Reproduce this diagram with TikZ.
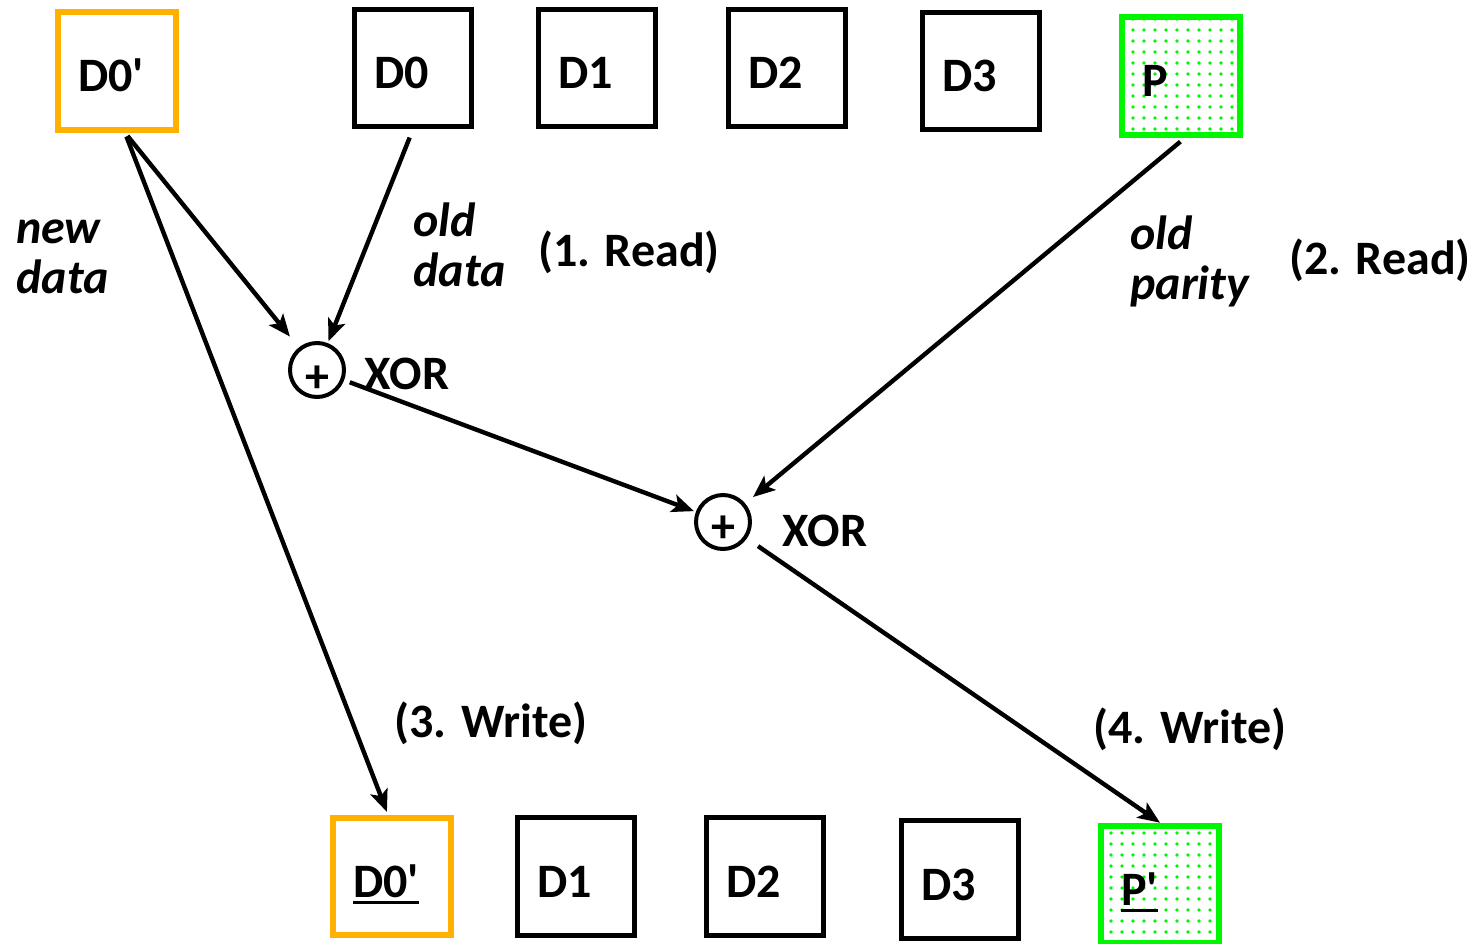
\documentclass[tikz,border=0pt]{standalone}
\usepackage{fontspec}
\setmainfont{Carlito}
\usetikzlibrary{arrows.meta}
\usetikzlibrary{patterns.meta}
\newcommand{\labelfont}{\fontsize{24}{24}\selectfont\bfseries}
\newcommand{\written}[1]{\setbox0\hbox{#1}\rlap{\rule[-3.5pt]{\wd0}{1.6pt}}\box0}
\definecolor{diskorange}{RGB}{255,176,0}
\definecolor{paritygreen}{RGB}{0,245,0}
\tikzset{disk/.style={draw=#1,line width=2.4pt,minimum size=58.8pt,inner sep=0pt,inner xsep=10pt,text width=38.8pt,align=left,text height=20.5pt,text depth=0pt,font=\labelfont},disk/.default=black}
\tikzset{newdisk/.style={disk=diskorange,line width=3pt}}
\tikzset{parity/.style={disk=paritygreen,line width=3pt,pattern={Dots[distance=5.5pt,radius=0.95pt]},pattern color=paritygreen}}
\tikzset{xor/.style={circle,draw,line width=2pt,minimum size=27pt,inner sep=0pt,text depth=0pt,font=\labelfont}}
\tikzset{note/.style={font=\labelfont\itshape,align=left,inner sep=0pt,anchor=north west}}
\tikzset{stage/.style={font=\labelfont,inner sep=0pt}}
\tikzset{flow/.style={-{Stealth[length=11pt,width=9pt,inset=2.5pt]},line width=2.2pt}}

\begin{document}
\begin{tikzpicture}[x=0.5pt,y=-0.5pt]
	\useasboundingbox (0,0) rectangle (1478,943);

	% disks before the write
	\node [newdisk] (newD0) at (117,71) {D0\textquotesingle};
	\node [disk] (D0) at (413,68) {D0};
	\node [disk] (D1) at (597,68) {D1};
	\node [disk] (D2) at (787,68) {D2};
	\node [disk] (D3) at (981,71) {D3};
	\node [parity] (P) at (1181,76) {P};

	% disks after the write
	\node [newdisk] (wD0) at (392,876.5) {\written{D0\textquotesingle}};
	\node [disk] (wD1) at (576,876.5) {D1};
	\node [disk] (wD2) at (765,876.5) {D2};
	\node [disk] (wD3) at (960,879.5) {D3};
	\node [parity] (wP) at (1160,884.5) {\written{P\textquotesingle}};

	\node [xor,text height=22pt] (xor1) at (317,370) {+};
	\node [xor,text height=20pt] (xor2) at (723,522) {+};
	\node [stage] (xorname1) at (407,374) {XOR};
	\node [stage] (xorname2) at (825,531) {XOR};

	\node [note] (newdata) at (16,209.4) {new\strut\\data};
	\node [note] (olddata) at (413,202.4) {old\strut\\data};
	\node [note] (oldparity) at (1130,215.4) {old\strut\\parity};
	\node [stage] (read1) at (629,252) {(1. Read)};
	\node [stage] (read2) at (1380,260) {(2. Read)};
	\node [stage] (write3) at (491,723) {(3. Write)};
	\node [stage] (write4) at (1190,729) {(4. Write)};

	\draw [flow,shorten <=2pt,shorten >=7pt] ([xshift=4pt]newD0.south) -- (xor1);
	\draw [flow,shorten <=2pt,shorten >=1.5pt] ([xshift=4pt]newD0.south) -- ([xshift=-2pt]wD0.north);
	\draw [flow,shorten <=4.5pt,shorten >=1pt] (D0.south) -- (xor1);
	\draw [flow,shorten <=3pt,shorten >=1pt] (xor1) -- (xor2);
	\draw [flow,shorten <=3pt,shorten >=5pt] ([xshift=2pt]P.south) -- (xor2);
	\draw [flow,shorten <=6.75pt] (xor2) -- (wP.north);
\end{tikzpicture}
\end{document}
